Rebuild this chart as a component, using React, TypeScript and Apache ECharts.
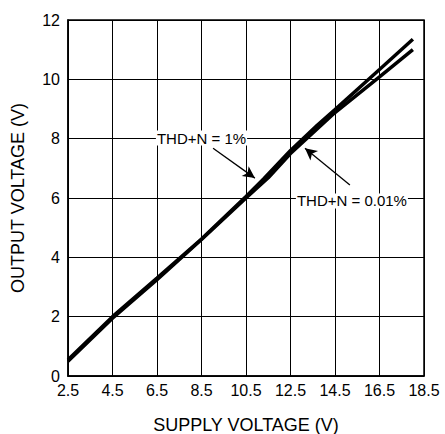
import React, { useEffect, useRef } from "react";
import * as echarts from "echarts";

const xTickLabels = ["2.5", "4.5", "6.5", "8.5", "10.5", "12.5", "14.5", "16.5", "18.5"];
const supplyX1 = [2.5, 4.5, 6.5, 8.5, 10.5, 11.3, 12.5, 13.7, 14.5, 16.5, 18];
const thd1 = [0.55, 2.0, 3.3, 4.62, 6.05, 6.65, 7.6, 8.45, 8.98, 10.33, 11.35];
const supplyX2 = [2.5, 4.5, 6.5, 8.5, 10.5, 11.5, 12.5, 14.5, 16.5, 18];
const thd001 = [0.5, 1.95, 3.25, 4.6, 6.0, 6.68, 7.5, 8.88, 10.08, 11.0];

const label1 = { text: "THD+N = 1%", at: [8.5, 8.02], arrowFrom: [9.02, 7.68], arrowTo: [10.9, 6.67] };
const label2 = { text: "THD+N = 0.01%", at: [15.26, 5.9], arrowFrom: [15.17, 6.44], arrowTo: [13.15, 7.68] };

const FONT = "Liberation Sans";

export default function App() {
  const ref = useRef<HTMLDivElement>(null);
  useEffect(() => {
    if (!ref.current) return;
    const chart = echarts.init(ref.current, null, { renderer: "svg" });
    const mkSeries = (name: string, xs: number[], ys: number[], lab: any) => ({
      name,
      type: "line",
      xAxisIndex: 1,
      yAxisIndex: 0,
      data: xs.map((x, i) => [x, ys[i]]),
      showSymbol: false,
      symbol: "none",
      lineStyle: { color: "#000", width: 3.5 },
      z: 5,
      markLine: {
        silent: true,
        symbol: ["none", "arrow"],
        symbolSize: [9, 12],
        lineStyle: { color: "#000", width: 1.3, type: "solid" },
        label: { show: false },
        data: [[{ coord: lab.arrowFrom }, { coord: lab.arrowTo }]],
      },
      markPoint: {
        silent: true,
        symbol: "rect",
        symbolSize: 0,
        data: [
          {
            coord: lab.at,
            label: {
              show: true,
              position: "inside",
              formatter: lab.text,
              color: "#000",
              fontFamily: FONT,
              fontSize: 15,
              backgroundColor: "#fff",
              padding: [0, 1],
            },
          },
        ],
      },
    });
    chart.setOption({
      animation: false,
      grid: {
        left: 68,
        right: 21,
        top: 20,
        bottom: 58,
        show: true,
        borderColor: "#000",
        borderWidth: 1.5,
        containLabel: false,
        outerBoundsMode: "none",
      },
      xAxis: [
        {
          type: "category",
          data: xTickLabels,
          boundaryGap: false,
          name: "SUPPLY VOLTAGE (V)",
          nameLocation: "middle",
          nameGap: 40,
          nameTextStyle: { fontFamily: FONT, fontSize: 18, color: "#000" },
          axisLine: { lineStyle: { color: "#000", width: 1.5 } },
          axisTick: { show: false },
          axisLabel: { fontFamily: FONT, fontSize: 16, color: "#000", margin: 6, interval: 0 },
          splitLine: { show: true, lineStyle: { color: "#000", width: 1 } },
        },
        {
          type: "value",
          min: 2.5,
          max: 18.5,
          show: false,
          splitLine: { show: false },
        },
      ],
      yAxis: {
        type: "value",
        min: 0,
        max: 12,
        interval: 2,
        name: "OUTPUT VOLTAGE (V)",
        nameLocation: "middle",
        nameGap: 41,
        nameTextStyle: { fontFamily: FONT, fontSize: 18, color: "#000" },
        axisLine: { show: true, lineStyle: { color: "#000", width: 1.5 } },
        axisTick: { show: false },
        axisLabel: { fontFamily: FONT, fontSize: 16, color: "#000", margin: 8 },
        splitLine: { show: true, lineStyle: { color: "#000", width: 1 } },
      },
      series: [
        mkSeries("THD+N = 1%", supplyX1, thd1, label1),
        mkSeries("THD+N = 0.01%", supplyX2, thd001, label2),
      ],
    });
    return () => chart.dispose();
  }, []);
  return <div ref={ref} style={{ width: 445, height: 434, position: "absolute", left: 0, top: 0 }} />;
}
